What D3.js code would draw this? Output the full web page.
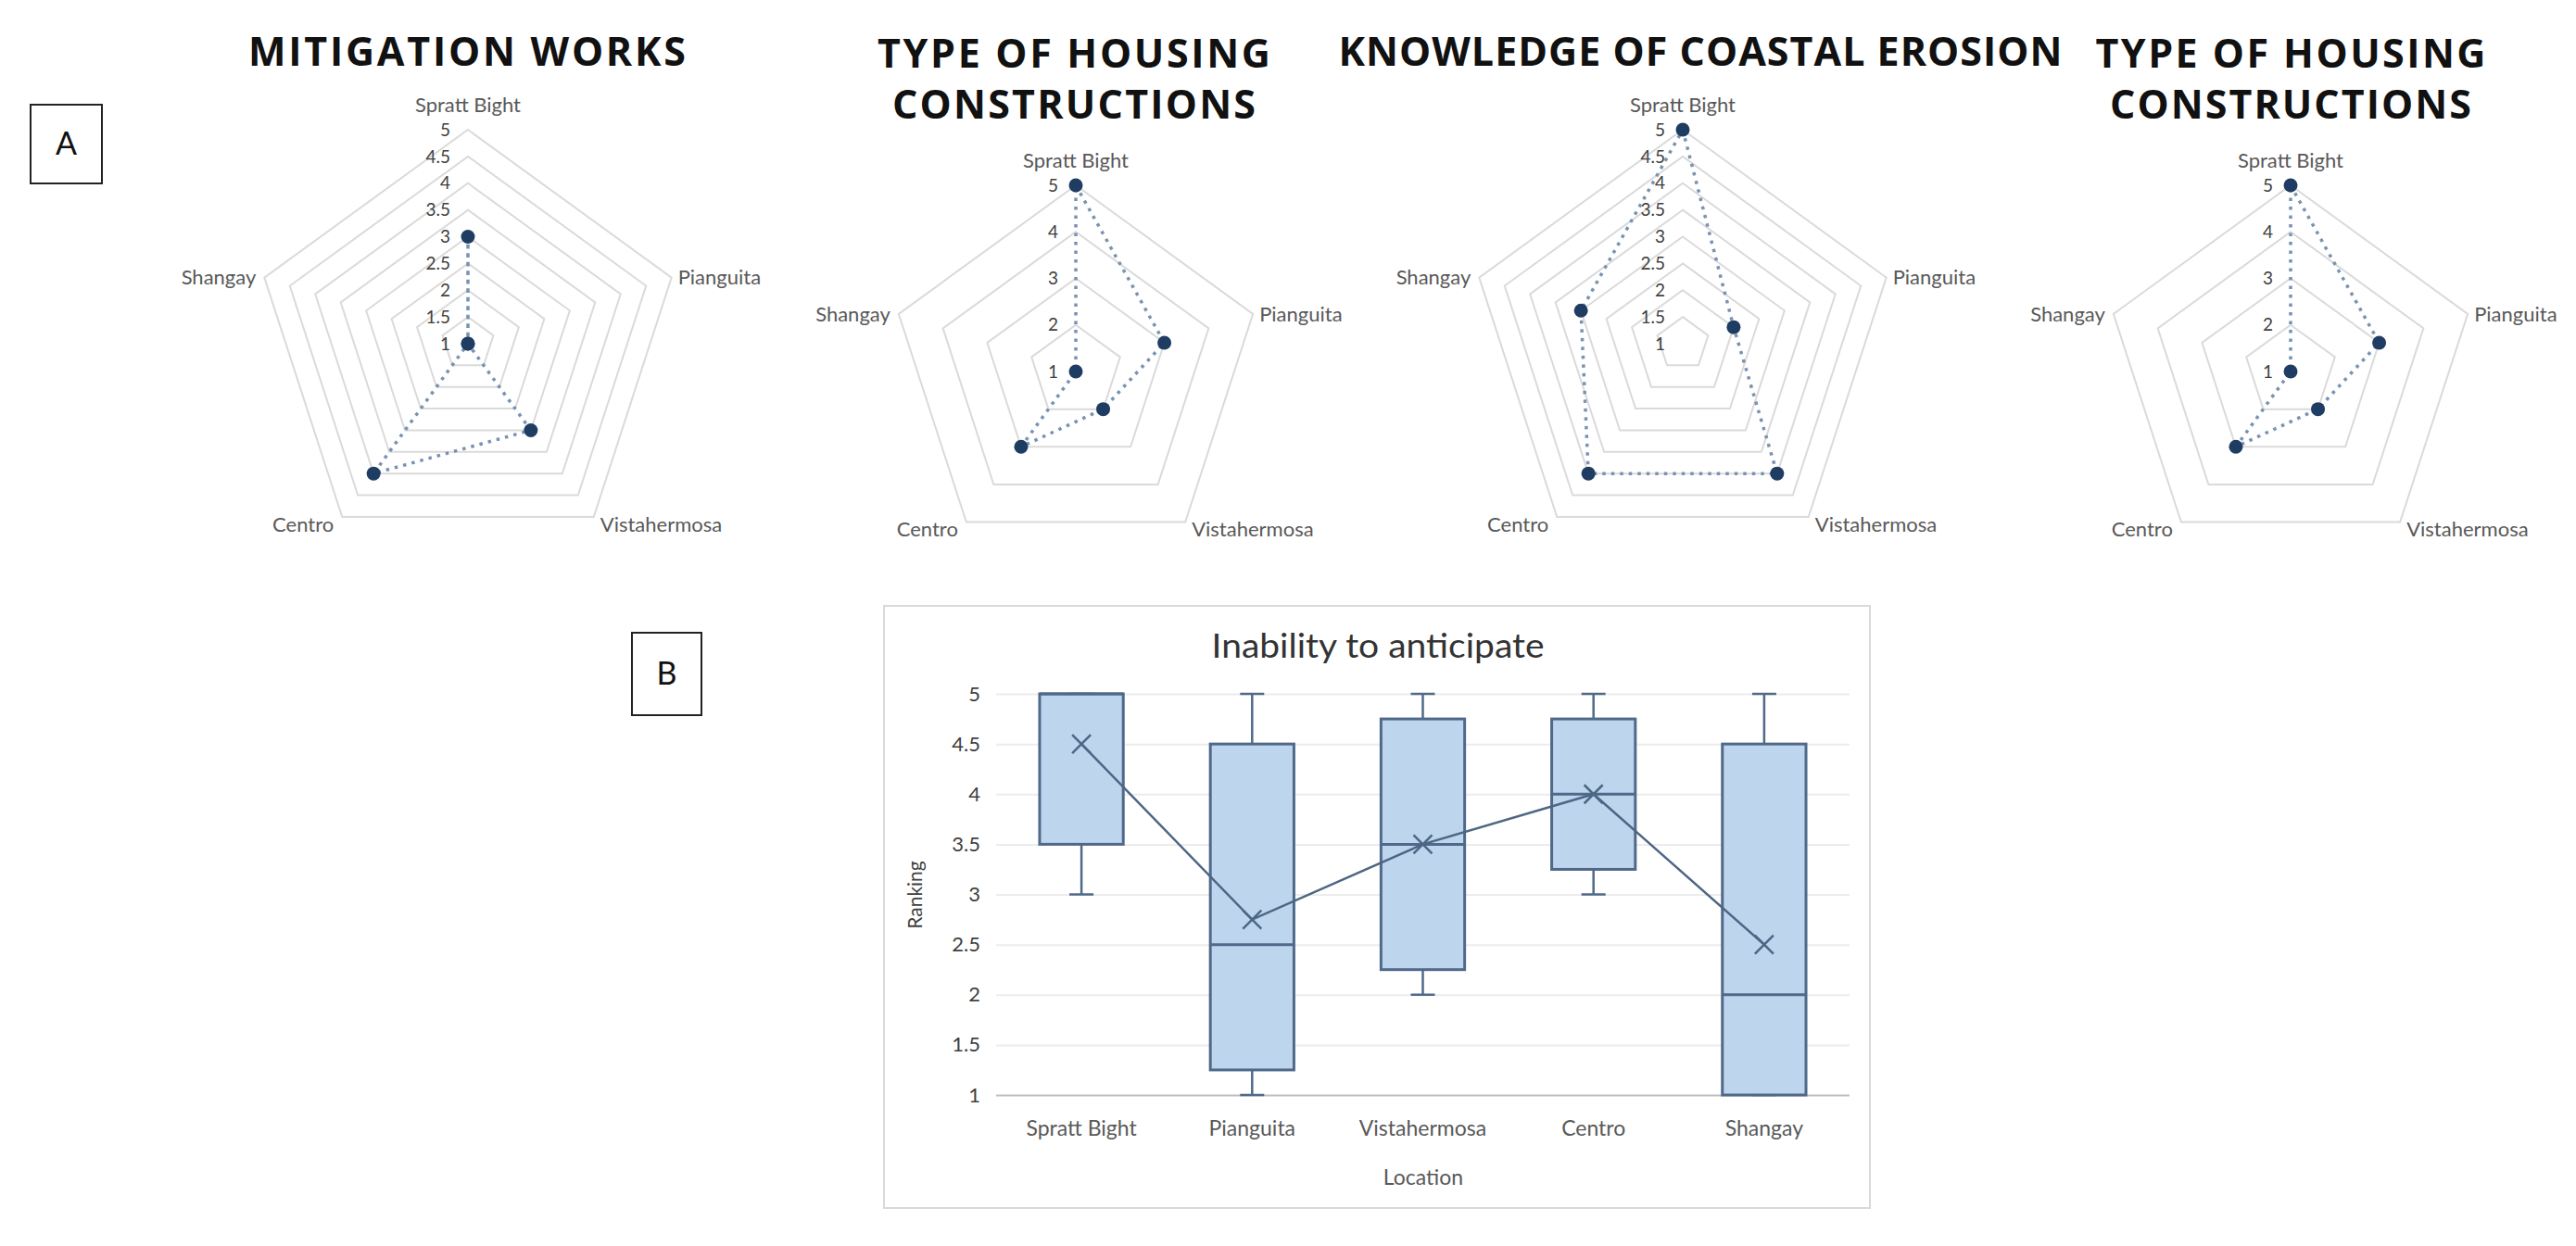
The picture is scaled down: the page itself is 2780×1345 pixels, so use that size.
<!DOCTYPE html>
<html>
<head>
<meta charset="utf-8">
<script src="https://cdn.jsdelivr.net/npm/d3@7"></script>
<style>
body { margin: 0; background: #fff; }
</style>
</head>
<body>
<script>
// locations, shared by every chart
var locations = ["Spratt Bight", "Pianguita", "Vistahermosa", "Centro", "Shangay"]

// radar values (A), same order as locations
var mitigation = [3, 1, 3, 4, 1]
var housing = [5, 3, 2, 3, 1]
var knowledge = [5, 2, 4, 4, 3]
var housing2 = [5, 3, 2, 3, 1]
var halfTicks = [1, 1.5, 2, 2.5, 3, 3.5, 4, 4.5, 5]
var wholeTicks = [1, 2, 3, 4, 5]

// box plot (B) "Inability to anticipate"
var boxMin = [3, 1, 2, 3, 1]
var boxQ1 = [3.5, 1.25, 2.25, 3.25, 1]
var boxMedian = [5, 2.5, 3.5, 4, 2]
var boxQ3 = [5, 4.5, 4.75, 4.75, 4.5]
var boxMax = [5, 5, 5, 5, 5]
var boxMean = [4.5, 2.75, 3.5, 4, 2.5]
var rankTicks = [1, 1.5, 2, 2.5, 3, 3.5, 4, 4.5, 5]

var svg = d3.select("body").append("svg")
  .attr("width", 2780)
  .attr("height", 1345)
  .style("font-family", "Lato, 'Open Sans', sans-serif")

svg.append("rect").attr("width", 2780).attr("height", 1345).style("fill", "#fff")

function radar(cx, cy, r, values, ticks, titles, titleX) {
  var g = svg.append("g").attr("transform", "translate(" + cx + "," + cy + ")")
  var rad = d3.scaleLinear().domain([1, 5]).range([0, r])
  var ang = d3.scaleLinear().domain([0, locations.length]).range([0, 2 * Math.PI])
  var line = d3.lineRadial()
    .angle(function(d, i) { return ang(i) })
    .radius(function(d) { return rad(d) })
    .curve(d3.curveLinearClosed)

  g.selectAll(".ring").data(ticks.slice(1)).enter().append("path")
    .attr("d", function(t) { return line(locations.map(function() { return t })) })
    .style("fill", "none")
    .style("stroke", "#dadada")
    .style("stroke-width", 2)

  g.selectAll(".tick").data(ticks).enter().append("text")
    .attr("x", -19)
    .attr("y", function(t) { return -rad(t) })
    .attr("dy", "0.35em")
    .attr("text-anchor", "end")
    .style("font-size", "19px")
    .style("fill", "#404040")
    .text(function(t) { return t })

  g.selectAll(".lab").data(locations).enter().append("text")
    .attr("x", function(d, i) {
      var s = Math.sin(ang(i))
      return r * s + (s > 0.1 ? 7 : (s < -0.1 ? -9 : 0))
    })
    .attr("y", function(d, i) {
      var c = Math.cos(ang(i))
      if (c > 0.9) return -r - 19
      return -r * c + (c < -0.5 ? 8 : 0)
    })
    .attr("dy", function(d, i) { return Math.cos(ang(i)) > 0.9 ? 0 : "0.35em" })
    .attr("text-anchor", function(d, i) {
      var s = Math.sin(ang(i))
      return s > 0.1 ? "start" : (s < -0.1 ? "end" : "middle")
    })
    .style("font-size", "22px")
    .style("fill", "#595959")
    .text(function(d) { return d })

  g.append("path")
    .attr("d", line(values))
    .style("fill", "none")
    .style("stroke", "#7892b2")
    .style("stroke-width", 3.5)
    .style("stroke-dasharray", "3.5,6")

  g.selectAll(".pt").data(values).enter().append("circle")
    .attr("cx", function(d, i) { return rad(d) * Math.sin(ang(i)) })
    .attr("cy", function(d, i) { return -rad(d) * Math.cos(ang(i)) })
    .attr("r", 7.5)
    .style("fill", "#1f3d63")

  titles.forEach(function(t) {
    svg.append("text")
      .attr("x", titleX)
      .attr("y", t[1])
      .attr("text-anchor", "middle")
      .attr("textLength", t[2])
      .attr("lengthAdjust", "spacing")
      .style("font-family", "'Open Sans', sans-serif")
      .style("font-weight", 700)
      .style("font-size", "43px")
      .style("fill", "#111")
      .text(t[0])
  })
}

radar(505, 371, 231, mitigation, halfTicks, [["MITIGATION WORKS", 71, 472]], 504)
radar(1161, 401, 201, housing, wholeTicks, [["TYPE OF HOUSING", 73, 424], ["CONSTRUCTIONS", 128, 392]], 1159)
radar(1816, 371, 231, knowledge, halfTicks, [["KNOWLEDGE OF COASTAL EROSION", 71, 781]], 1835)
radar(2472, 401, 201, housing2, wholeTicks, [["TYPE OF HOUSING", 73, 421], ["CONSTRUCTIONS", 128, 390]], 2472)

// panel letters
function letterBox(x, y, w, h, letter) {
  svg.append("rect").attr("x", x).attr("y", y).attr("width", w).attr("height", h)
    .style("fill", "none").style("stroke", "#222").style("stroke-width", 2)
  svg.append("text").attr("x", x + w / 2).attr("y", y + h / 2).attr("dy", "0.35em")
    .attr("text-anchor", "middle").style("font-size", "34px").style("fill", "#111")
    .text(letter)
}
letterBox(33, 113, 77, 85, "A")
letterBox(682, 683, 75, 89, "B")

// box plot
svg.append("rect").attr("x", 954).attr("y", 654).attr("width", 1064).attr("height", 650)
  .style("fill", "#fff").style("stroke", "#d9d9d9").style("stroke-width", 2)

var x = d3.scaleBand().domain(locations).range([1075, 1996])
var y = d3.scaleLinear().domain([1, 5]).range([1182, 749])
var bw = x.bandwidth()

var grid = svg.append("g").attr("transform", "translate(1075,0)")
  .call(d3.axisLeft(y).tickValues(rankTicks).tickSize(-(1996 - 1075)).tickFormat(""))
grid.select(".domain").remove()
grid.selectAll("line")
  .style("stroke", function(d) { return d === 1 ? "#bfbfbf" : "#ececec" })
  .style("stroke-width", 2)

var yAxis = svg.append("g").attr("transform", "translate(1058,0)")
  .call(d3.axisLeft(y).tickValues(rankTicks).tickSize(0).tickPadding(0).tickFormat(function(d) { return d }))
yAxis.select(".domain").remove()
yAxis.selectAll("text").style("font-family", "Lato, sans-serif").style("font-size", "22px").style("fill", "#404040")

var xAxis = svg.append("g").attr("transform", "translate(0,1182)")
  .call(d3.axisBottom(x).tickSize(0).tickPadding(28))
xAxis.select(".domain").remove()
xAxis.selectAll("text").style("font-family", "Lato, sans-serif").style("font-size", "23px").style("fill", "#595959")

var boxes = svg.append("g").selectAll("g").data(locations).enter().append("g")
var boxStroke = "#50698a"
boxes.append("line")
  .attr("x1", function(d) { return x(d) + bw / 2 }).attr("x2", function(d) { return x(d) + bw / 2 })
  .attr("y1", function(d, i) { return y(boxMax[i]) }).attr("y2", function(d, i) { return y(boxMin[i]) })
  .style("stroke", boxStroke).style("stroke-width", 2.5)
boxes.append("line")
  .attr("x1", function(d) { return x(d) + bw / 2 - 13 }).attr("x2", function(d) { return x(d) + bw / 2 + 13 })
  .attr("y1", function(d, i) { return y(boxMax[i]) }).attr("y2", function(d, i) { return y(boxMax[i]) })
  .style("stroke", boxStroke).style("stroke-width", 2.5)
boxes.append("line")
  .attr("x1", function(d) { return x(d) + bw / 2 - 13 }).attr("x2", function(d) { return x(d) + bw / 2 + 13 })
  .attr("y1", function(d, i) { return y(boxMin[i]) }).attr("y2", function(d, i) { return y(boxMin[i]) })
  .style("stroke", boxStroke).style("stroke-width", 2.5)
boxes.append("rect")
  .attr("x", function(d) { return x(d) + bw * 0.255 })
  .attr("width", bw * 0.49)
  .attr("y", function(d, i) { return y(boxQ3[i]) })
  .attr("height", function(d, i) { return y(boxQ1[i]) - y(boxQ3[i]) })
  .style("fill", "#bdd5ed").style("stroke", boxStroke).style("stroke-width", 3)
boxes.append("line")
  .attr("x1", function(d) { return x(d) + bw * 0.255 }).attr("x2", function(d) { return x(d) + bw * 0.745 })
  .attr("y1", function(d, i) { return y(boxMedian[i]) }).attr("y2", function(d, i) { return y(boxMedian[i]) })
  .style("stroke", boxStroke).style("stroke-width", 3)

var meanLine = d3.line()
  .x(function(d, i) { return x(locations[i]) + bw / 2 })
  .y(function(d) { return y(d) })
svg.append("path").attr("d", meanLine(boxMean))
  .style("fill", "none").style("stroke", "#4d6684").style("stroke-width", 2.5)
svg.append("g").selectAll("path").data(boxMean).enter().append("path")
  .attr("transform", function(d, i) { return "translate(" + (x(locations[i]) + bw / 2) + "," + y(d) + ")" })
  .attr("d", "M-10,-10L10,10M-10,10L10,-10")
  .style("stroke", "#4d6684").style("stroke-width", 2.5)

svg.append("text").attr("x", 1487).attr("y", 710).attr("text-anchor", "middle")
  .attr("textLength", 359).attr("lengthAdjust", "spacingAndGlyphs")
  .style("font-size", "36px").style("fill", "#333").text("Inability to anticipate")
svg.append("text").attr("x", 1536).attr("y", 1279).attr("text-anchor", "middle")
  .style("font-size", "23px").style("fill", "#595959").text("Location")
svg.append("text").attr("transform", "translate(995,966) rotate(-90)").attr("text-anchor", "middle")
  .style("font-size", "21px").style("fill", "#404040").text("Ranking")
</script>
</body>
</html>
